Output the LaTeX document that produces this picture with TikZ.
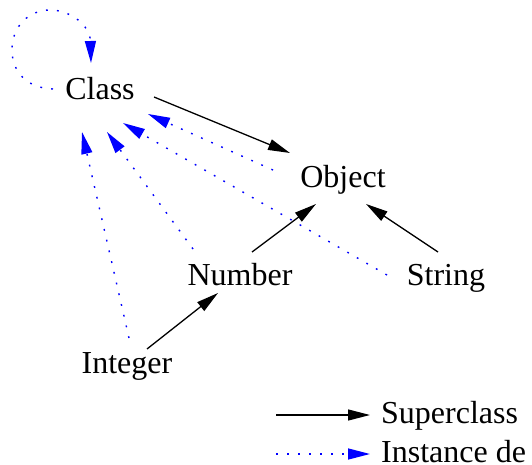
\documentclass[tikz,border=0pt]{standalone}
\usepackage{fontspec}
\setmainfont{Liberation Serif}
\usetikzlibrary{arrows.meta,calc}
\begin{document}
\begin{tikzpicture}[x=1pt,y=-1pt,
  lbl/.style={anchor=base,inner sep=0pt,font=\fontsize{32}{38}\selectfont},
  sup/.style={draw=black,line width=1.3pt,-{Triangle[length=22pt,width=11pt]}},
  inst/.style={draw=blue,line width=1.4pt,dash pattern=on 1.8pt off 9.2pt,-{Triangle[length=22pt,width=11pt]},fill=none},
  ]
\useasboundingbox (0,0) rectangle (532,465);
\node[lbl] (C) at (100,100) {Class};
\node[lbl] (O) at (343,187) {Object};
\node[lbl] (N) at (240,285) {Number};
\node[lbl] (S) at (446,285) {String};
\node[lbl] (I) at (127,373) {Integer};
% superclass edges
\draw[sup] ($(C.base)+(54,-3)$) -- ($(O.base)+(-53,-34)$);
\draw[sup] ($(N.base)+(12,-33)$) -- ($(O.base)+(-27,17)$);
\draw[sup] ($(S.base)+(-8,-33)$) -- ($(O.base)+(23,17)$);
\draw[sup] ($(I.base)+(20,-24)$) -- ($(N.base)+(-22,8)$);
% instance edges
\draw[inst] ($(O.base)+(-70,-17)$) -- ($(C.base)+(48,14)$);
\draw[inst] ($(S.base)+(-59,-10)$) -- ($(C.base)+(23,23)$);
\draw[inst] ($(N.base)+(-47,-36)$) -- ($(C.base)+(7,32)$);
\draw[inst] ($(I.base)+(2,-35)$) -- ($(C.base)+(-18,32)$);
% self loop
\draw[inst] ($(C.base)+(-47,-11)$) .. controls ($(C.base)+(-75,-12)$) and ($(C.base)+(-88,-30)$) .. ($(C.base)+(-88,-50)$)
  .. controls ($(C.base)+(-88,-75)$) and ($(C.base)+(-70,-90)$) .. ($(C.base)+(-50,-90)$)
  .. controls ($(C.base)+(-30,-90)$) and ($(C.base)+(-10,-75)$) .. ($(C.base)+(-9,-37)$);
% legend
\node[lbl,anchor=base west] (Lsup) at (381,423) {Superclass};
\node[lbl,anchor=base west] (Linst) at (381,462) {Instance de};
\coordinate (l1) at (276,415);
\coordinate (l2) at (276,454);
\draw[sup] (l1) -- ([xshift=-11pt]Lsup.west |- l1);
\draw[inst] (l2) -- ([xshift=-11pt]Linst.west |- l2);
\end{tikzpicture}
\end{document}
